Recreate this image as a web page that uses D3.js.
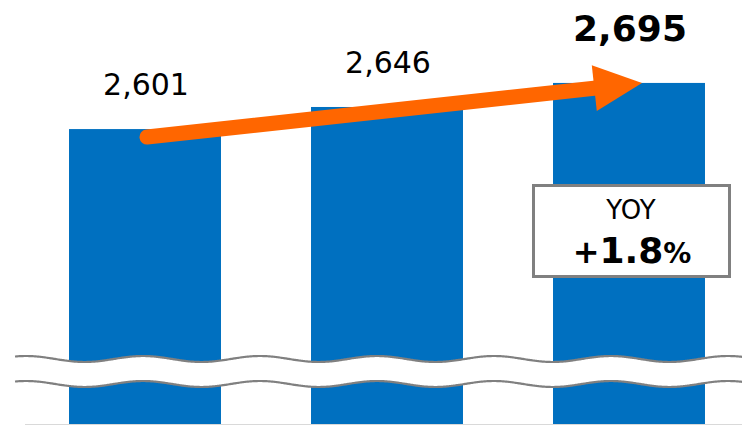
<!DOCTYPE html>
<html>
<head>
<meta charset="utf-8">
<script src="https://cdn.jsdelivr.net/npm/d3@7/dist/d3.min.js"></script>
<style>
  html, body { margin: 0; padding: 0; background: #fff; }
  svg { display: block; font-family: "DejaVu Sans", Verdana, sans-serif; }
</style>
</head>
<body>
<svg id="chart" width="742" height="425"></svg>
<script>
// ----------- Data ------------
const periods = ["FY1", "FY2", "FY3"];
const sales = [2601, 2646, 2695];
const labels = ["2,601", "2,646", "2,695"];
const yoyLabel = "YOY";
const yoyParts = ["+", "1.8", "%"];

// ----------- Setup ------------
const width = 742, height = 425;
const baseY = 424;
const svg = d3.select("#chart");

const x = d3.scaleBand()
  .domain(periods)
  .range([24, 750])
  .paddingInner(0.372)
  .paddingOuter(0.186);

// axis starts at 2000 (hidden by the break marks)
const y = d3.scaleLinear()
  .domain([2000, 2864])
  .range([baseY, 0]);

// ----------- Bars ------------
svg.selectAll("rect.bar")
  .data(periods)
  .enter()
  .append("rect")
  .attr("class", "bar")
  .attr("x", d => x(d))
  .attr("y", (d, i) => y(sales[i]))
  .attr("width", x.bandwidth())
  .attr("height", (d, i) => baseY - y(sales[i]))
  .attr("fill", "#0070c0");

// baseline
svg.append("line")
  .attr("x1", 25).attr("x2", width)
  .attr("y1", baseY + 0.5).attr("y2", baseY + 0.5)
  .attr("stroke", "#d9d9d9")
  .attr("stroke-width", 1);

// ----------- Axis break (two wavy lines) ------------
const wavePeriod = 117, waveAmp = 3, wavePhase = 26;
function wavePoints(cy) {
  const pts = [];
  for (let px = 15; px <= width + 2; px += 2) {
    pts.push([px, cy - waveAmp * Math.cos(2 * Math.PI * (px - wavePhase) / wavePeriod)]);
  }
  return pts;
}
const topWave = wavePoints(359);
const botWave = wavePoints(384);
const line = d3.line().curve(d3.curveBasis);

svg.append("path")
  .attr("d", line(topWave) + "L" + line(botWave.slice().reverse()).slice(1) + "Z")
  .attr("fill", "#fff");

[topWave, botWave].forEach(w => {
  svg.append("path")
    .attr("d", line(w))
    .attr("fill", "none")
    .attr("stroke", "#808080")
    .attr("stroke-width", 2.2);
});

// ----------- Value labels ------------
svg.selectAll("text.val")
  .data(periods)
  .enter()
  .append("text")
  .attr("class", "val")
  .attr("x", d => x(d) + x.bandwidth() / 2 + 1)
  .attr("y", (d, i) => i === periods.length - 1 ? y(sales[i]) - 42 : y(sales[i]) - 34)
  .attr("text-anchor", "middle")
  .attr("font-size", (d, i) => i === periods.length - 1 ? 36 : 30)
  .attr("font-weight", (d, i) => i === periods.length - 1 ? "bold" : "normal")
  .attr("fill", "#000")
  .text((d, i) => labels[i]);

// ----------- Trend arrow ------------
const first = periods[0], last = periods[periods.length - 1];
const start = [x(first) + x.bandwidth() / 2 + 2, y(sales[0]) + 8];
const tip = [x(last) + x.bandwidth() / 2 + 13, y(sales[sales.length - 1])];
const dx = tip[0] - start[0], dy = tip[1] - start[1];
const len = Math.hypot(dx, dy);
const u = [dx / len, dy / len], n = [-u[1], u[0]];
const headLen = 48, headHalf = 23;
const base = [tip[0] - headLen * u[0], tip[1] - headLen * u[1]];

svg.append("line")
  .attr("x1", start[0]).attr("y1", start[1])
  .attr("x2", base[0] + 2 * u[0]).attr("y2", base[1] + 2 * u[1])
  .attr("stroke", "#ff6600")
  .attr("stroke-width", 15)
  .attr("stroke-linecap", "round");

svg.append("path")
  .attr("d", d3.line()([
    tip,
    [base[0] + headHalf * n[0], base[1] + headHalf * n[1]],
    [base[0] - headHalf * n[0], base[1] - headHalf * n[1]]
  ]) + "Z")
  .attr("fill", "#ff6600");

// ----------- YOY box ------------
const box = svg.append("g");
box.append("rect")
  .attr("x", 533.5).attr("y", 185.5)
  .attr("width", 196).attr("height", 91)
  .attr("fill", "#fff")
  .attr("stroke", "#808080")
  .attr("stroke-width", 3);

box.append("text")
  .attr("x", 631).attr("y", 219)
  .attr("text-anchor", "middle")
  .attr("font-size", 26)
  .attr("fill", "#000")
  .text(yoyLabel);

const yoyText = box.append("text")
  .attr("x", 632).attr("y", 263)
  .attr("text-anchor", "middle")
  .attr("font-weight", "bold")
  .attr("fill", "#000");
const partSizes = [32, 36, 28];
yoyParts.forEach((p, i) => {
  yoyText.append("tspan").attr("font-size", partSizes[i]).text(p);
});
</script>
</body>
</html>
